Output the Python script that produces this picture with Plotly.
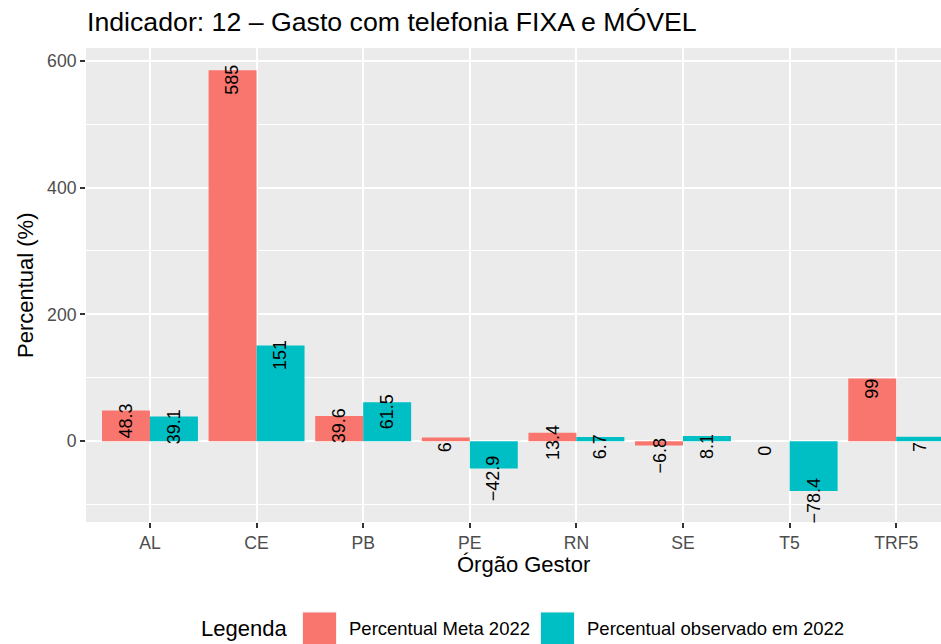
import plotly.graph_objects as go

# %%
orgaos = ["AL", "CE", "PB", "PE", "RN", "SE", "T5", "TRF5"]
meta_2022 = [48.3, 585, 39.6, 6, 13.4, -6.8, 0, 99]
observado_2022 = [39.1, 151, 61.5, -42.9, 6.7, 8.1, -78.4, 7]
nomes = ["Percentual Meta 2022", "Percentual observado em 2022"]
cores = ["#F8766D", "#00BFC4"]

# %%
W, H = 941, 644
L, R, T, B = 86, 941, 48.3, 521.7
FONT = "Liberation Sans, Arial, Helvetica, sans-serif"


def px_x(p):
    return (p - L) / (R - L)


def px_y(p):
    return (B - p) / (B - T)


def rotulo(v):
    return f"{v:g}".replace("-", "\u2212")


fig = go.Figure()
for nome, cor, vals in zip(nomes, cores, [meta_2022, observado_2022]):
    fig.add_trace(go.Bar(x=orgaos, y=vals, name=nome, marker_color=cor,
                         marker_line_width=0, showlegend=False))

# rotulos das barras
annots = []
for k, vals in enumerate([meta_2022, observado_2022]):
    off = -0.225 if k == 0 else 0.225
    for i, v in enumerate(vals):
        annots.append(dict(x=i + off, y=v, xref="x", yref="y", text=rotulo(v),
                           textangle=-90, showarrow=False, yshift=-10,
                           xanchor="center", yanchor="middle",
                           font=dict(size=18, color="black", family=FONT)))

# titulos dos eixos
annots.append(dict(x=px_x(523), y=px_y(564), xref="paper", yref="paper",
                   text="Órgão Gestor", showarrow=False,
                   xanchor="center", yanchor="middle",
                   font=dict(size=22, color="black", family=FONT)))
annots.append(dict(x=px_x(26), y=px_y(285), xref="paper", yref="paper",
                   text="Percentual (%)", showarrow=False, textangle=-90,
                   xanchor="center", yanchor="middle",
                   font=dict(size=22, color="black", family=FONT)))

# legenda manual
annots.append(dict(x=px_x(199), y=px_y(628), xref="paper", yref="paper",
                   text="Legenda", showarrow=False, xanchor="left", yanchor="middle",
                   font=dict(size=22, color="black", family=FONT)))
shapes = []
leg = [(302, 347), (540, 585)]
for (bx, tx), nome, cor in zip(leg, nomes, cores):
    shapes.append(dict(type="rect", xref="paper", yref="paper",
                       x0=px_x(bx), x1=px_x(bx + 35), y0=px_y(611), y1=px_y(650),
                       fillcolor="#F2F2F2", line_width=0, layer="above"))
    shapes.append(dict(type="rect", xref="paper", yref="paper",
                       x0=px_x(bx + 1), x1=px_x(bx + 34), y0=px_y(612), y1=px_y(650),
                       fillcolor=cor, line_width=0, layer="above"))
    annots.append(dict(x=px_x(tx), y=px_y(628), xref="paper", yref="paper",
                       text=nome, showarrow=False, xanchor="left", yanchor="middle",
                       font=dict(size=18.5, color="black", family=FONT)))

# %%
fig.update_layout(
    width=W, height=H, autosize=False,
    margin=dict(l=L, r=W - R, t=T, b=H - B, pad=0),
    paper_bgcolor="white", plot_bgcolor="#EBEBEB",
    barmode="group", bargap=0.1, bargroupgap=0,
    font=dict(family=FONT),
    title=dict(text="Indicador: 12 \u2013 Gasto com telefonia FIXA e MÓVEL",
               x=87 / W, xanchor="left", xref="container",
               y=1 - 22 / H, yanchor="middle", yref="container",
               font=dict(size=26.7, color="black", family=FONT)),
    annotations=annots, shapes=shapes,
)
fig.update_xaxes(range=[-0.6, 7.42], showgrid=True, gridcolor="white", gridwidth=2,
                 ticks="outside", ticklen=5, tickwidth=2, tickcolor="#333333",
                 tickfont=dict(size=17.6, color="#4D4D4D", family=FONT),
                 zeroline=False, showline=False)
fig.update_yaxes(range=[-127.4, 620], tickvals=[0, 200, 400, 600],
                 showgrid=True, gridcolor="white", gridwidth=2,
                 minor=dict(tickvals=[-100, 100, 300, 500], showgrid=True,
                            gridcolor="white", gridwidth=1, ticks=""),
                 ticks="outside", ticklen=5, tickwidth=2, tickcolor="#333333",
                 tickfont=dict(size=17.6, color="#4D4D4D", family=FONT),
                 zeroline=False, showline=False)

fig.write_html("out.html", config={"displayModeBar": False},
               post_script="document.body.style.margin='0';")
